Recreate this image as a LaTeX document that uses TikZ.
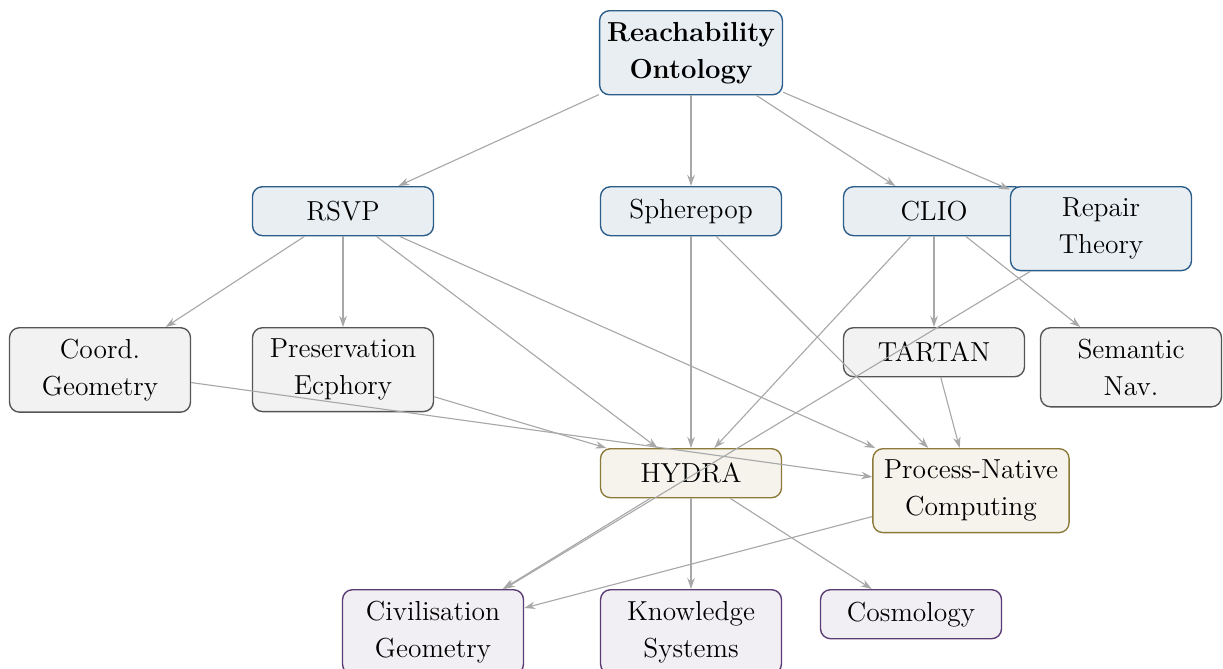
\documentclass[tikz,border=0pt]{standalone}
\usepackage{tikz}
\usetikzlibrary{arrows.meta}

\definecolor{coreFill}{HTML}{E9EEF3}
\definecolor{coreDraw}{HTML}{2B5D8A}
\definecolor{subFill}{HTML}{F2F2F2}
\definecolor{subDraw}{HTML}{555555}
\definecolor{hubFill}{HTML}{F5F3EC}
\definecolor{hubDraw}{HTML}{8C7A3A}
\definecolor{appFill}{HTML}{F1EFF3}
\definecolor{appDraw}{HTML}{5B3B75}
\definecolor{linkGray}{HTML}{A8A8A8}

\tikzset{
  box/.style={draw,rounded corners=4pt,line width=0.55pt,anchor=north,
    align=center,minimum width=72.4pt,minimum height=19.6pt,
    inner xsep=4.4pt,inner ysep=4.5pt,
    font=\fontsize{11}{14.8}\selectfont},
  corebox/.style={box,fill=coreFill,draw=coreDraw},
  subbox/.style={box,fill=subFill,draw=subDraw},
  hubbox/.style={box,fill=hubFill,draw=hubDraw},
  appbox/.style={box,fill=appFill,draw=appDraw},
  link/.style={draw=linkGray,line width=0.45pt,
    -{Stealth[length=4.4pt,width=3pt]}}
}

\begin{document}
\begin{tikzpicture}[x=0.4pt,y=-0.4pt]

    \useasboundingbox (0,0) rectangle (1223,668);

    % top
    \node[corebox,inner xsep=3pt] (reach) at (691,10)
    {\textbf{Reachability}\\\textbf{Ontology}};

    % second row
    \node[corebox] (rsvp) at (343,186) {RSVP};
    \node[corebox] (spop) at (691,186) {Spherepop};
    \node[corebox] (clio) at (934,186) {CLIO};
    \node[corebox] (repair) at (1101,186) {Repair\\Theory};

    % third row
    \node[subbox] (coord) at (100,327) {Coord.\\Geometry};
    \node[subbox] (presv) at (343,327) {Preservation\\Ecphory};
    \node[subbox] (tartan) at (934,327) {TARTAN};
    \node[subbox] (semnav) at (1131,327) {Semantic\\Nav.};

    % hubs
    \node[hubbox] (hydra) at (691,448) {HYDRA};
    \node[hubbox] (pnc) at (971,448) {Process-Native\\Computing};

    % applications
    \node[appbox] (civgeo) at (433,589) {Civilisation\\Geometry};
    \node[appbox] (knowsys) at (691,589) {Knowledge\\Systems};
    \node[appbox] (cosmo) at (911,589) {Cosmology};

    % links
    \draw[link] (reach) -- (rsvp);
    \draw[link] (reach) -- (spop);
    \draw[link] (reach) -- (clio);
    \draw[link] (reach) -- (repair);

    \draw[link] (rsvp) -- (coord);
    \draw[link] (rsvp) -- (presv);
    \draw[link] (rsvp) -- (hydra);
    \draw[link] (rsvp) -- (pnc);

    \draw[link] (spop) -- (hydra);
    \draw[link] (spop) -- (pnc);

    \draw[link] (clio) -- (tartan);
    \draw[link] (clio) -- (semnav);
    \draw[link] (clio) -- (hydra);

    \draw[link] (repair) -- (civgeo);

    \draw[link] (coord) -- (pnc);
    \draw[link] (presv) -- (hydra);
    \draw[link] (tartan) -- (pnc);

    \draw[link] (hydra) -- (civgeo);
    \draw[link] (hydra) -- (knowsys);
    \draw[link] (hydra) -- (cosmo);
    \draw[link] (pnc) -- (civgeo);

  \end{tikzpicture}
\end{document}
